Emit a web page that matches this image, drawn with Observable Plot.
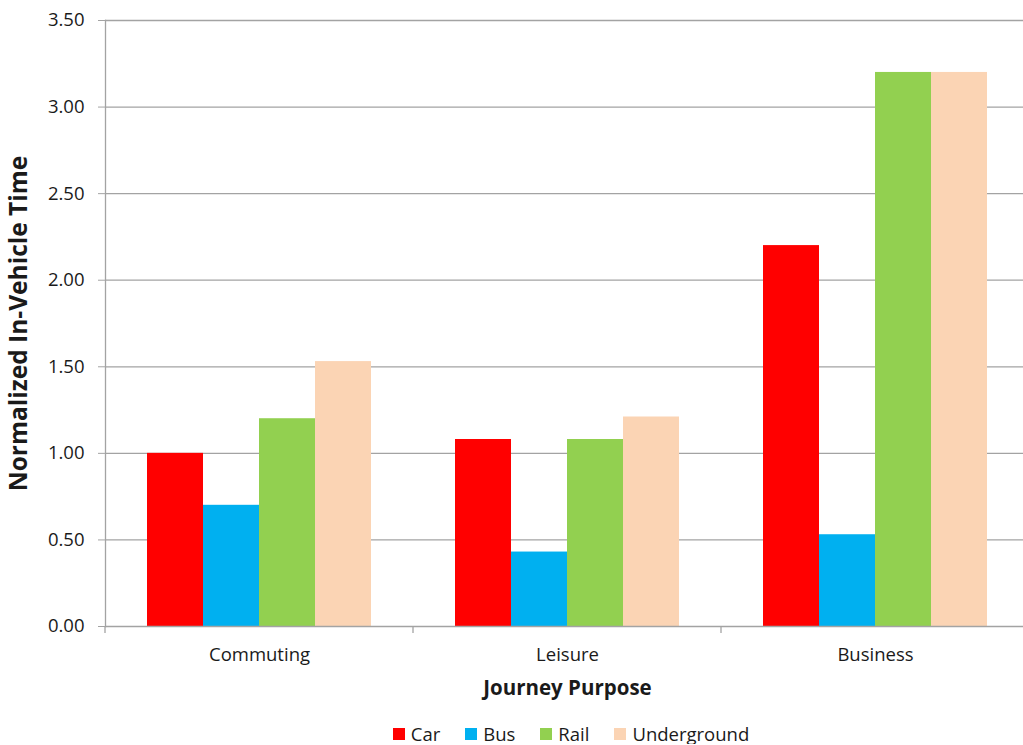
<!DOCTYPE html>
<html>
<head>
<meta charset="utf-8">
<script src="https://cdn.jsdelivr.net/npm/d3@7"></script>
<script src="https://cdn.jsdelivr.net/npm/@observablehq/plot@0.6"></script>
<style>
  html, body { margin: 0; padding: 0; background: #fff; overflow: hidden; }
  body { font-family: "Open Sans", sans-serif; }
  #chart { width: 1023px; overflow: hidden; }
  #chart svg { display: block; max-width: none; }
  g[aria-label="y-axis label"] text { font-weight: bold; font-size: 24.5px; }
  g[aria-label="fx-axis label"] text { font-weight: bold; font-size: 20.5px; }
  #legend { display: flex; justify-content: center; gap: 25px; width: 904px; margin-left: 119px; margin-top: 6px;
            font-size: 18.5px; color: #1a1a1a; line-height: 20px; }
  #legend span.item { display: flex; align-items: center; gap: 6px; }
  #legend span.sw { width: 12px; height: 12px; display: inline-block; }
</style>
</head>
<body>
<div id="chart"></div>
<div id="legend"></div>
<script>
const purposes = ["Commuting", "Leisure", "Business"];
const modes = ["Car", "Bus", "Rail", "Underground"];
const modeColors = ["#FF0000", "#00B0F0", "#92D050", "#FBD4B4"];
const carValues = [1.00, 1.08, 2.20];
const busValues = [0.70, 0.43, 0.53];
const railValues = [1.20, 1.08, 3.20];
const undergroundValues = [1.53, 1.21, 3.20];
const yTicks = [0, 0.5, 1, 1.5, 2, 2.5, 3, 3.5];

const seriesValues = [carValues, busValues, railValues, undergroundValues];
const data = [];
purposes.forEach((p, i) => {
  modes.forEach((m, j) => data.push({purpose: p, mode: m, value: seriesValues[j][i]}));
});

const gridColor = "#a3a3a3";

const plot = Plot.plot({
  width: 1030,
  height: 718,
  marginLeft: 105,
  marginRight: 1,
  marginTop: 20,
  marginBottom: 92,
  style: {fontFamily: "'Open Sans', sans-serif", fontSize: "18.5px", color: "#1a1a1a", background: "#fff", overflow: "visible"},
  fx: {domain: purposes, padding: 0},
  x: {domain: modes, paddingInner: 0, paddingOuter: 0.75, axis: null},
  y: {domain: [0, 3.5]},
  color: {domain: modes, range: modeColors},
  marks: [
    Plot.gridY(yTicks.slice(1), {stroke: gridColor, strokeOpacity: 1, strokeWidth: 1.3}),
    Plot.barY(data, {fx: "purpose", x: "mode", y: "value", fill: "mode"}),
    Plot.ruleY([0], {stroke: gridColor, strokeWidth: 1.3}),
    Plot.frame({anchor: "left", facetAnchor: "left", stroke: gridColor, strokeWidth: 1.3}),
    Plot.axisY(yTicks, {
      tickFormat: d => d.toFixed(2), tickSize: 7, tickPadding: 14, stroke: gridColor,
      label: "Normalized In-Vehicle Time", labelAnchor: "center", labelArrow: "none", labelOffset: 96
    }),
    Plot.axisFx({
      anchor: "bottom", tickSize: 0, tickPadding: 21, label: "Journey Purpose", labelAnchor: "center",
      labelArrow: "none", labelOffset: 68
    })
  ]
});

// category boundary tick marks below the baseline, positioned via the fx scale
const fx = plot.scale("fx");
const yScale = plot.scale("y");
const svg = d3.select(plot);
const bounds = purposes.map(p => fx.apply(p)).concat([fx.apply(purposes[purposes.length - 1]) + fx.bandwidth]);
svg.append("g").selectAll("line").data(bounds).join("line")
  .attr("x1", d => d).attr("x2", d => d)
  .attr("y1", yScale.apply(0)).attr("y2", yScale.apply(0) + 7)
  .attr("stroke", gridColor).attr("stroke-width", 1.3);

document.getElementById("chart").appendChild(plot);

const legend = d3.select("#legend");
modes.forEach((m, i) => {
  const it = legend.append("span").attr("class", "item");
  it.append("span").attr("class", "sw").style("background", modeColors[i]);
  it.append("span").text(m);
});
</script>
</body>
</html>
